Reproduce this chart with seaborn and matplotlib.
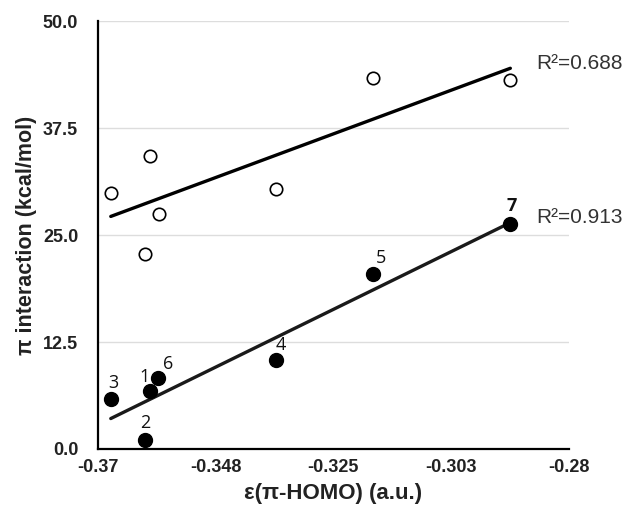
import numpy as np
import pandas as pd
import matplotlib
matplotlib.use("Agg")
import matplotlib.pyplot as plt
import seaborn as sns

# hollow series (upper fit)
open_x = [-0.3675, -0.3609, -0.3600, -0.3583, -0.3360, -0.3175, -0.2912]
open_y = [29.9, 22.8, 34.2, 27.5, 30.4, 43.4, 43.1]

# filled series (lower fit), labelled 1..7
filled_labels = ["1", "2", "3", "4", "5", "6", "7"]
filled_x = [-0.3600, -0.3609, -0.3675, -0.3360, -0.3175, -0.3584, -0.2912]
filled_y = [6.8, 1.1, 5.8, 10.4, 20.5, 8.3, 26.3]

r2_labels = ["R\u00b2=0.688", "R\u00b2=0.913"]
r2_y = [45.0, 27.0]

xticks = [-0.37, -0.3475, -0.325, -0.3025, -0.28]
xtick_labels = ["-0.37", "-0.348", "-0.325", "-0.303", "-0.28"]
yticks = [0.0, 12.5, 25.0, 37.5, 50.0]

sns.set_style("white")
plt.rcParams["font.family"] = ["Liberation Sans", "DejaVu Sans"]

fig = plt.figure(figsize=(6.29, 5.14), dpi=100)
ax = fig.add_axes([0.1553, 0.1265, 0.7493, 0.8325])

df_open = pd.DataFrame({"x": open_x, "y": open_y})
df_fill = pd.DataFrame({"x": filled_x, "y": filled_y, "label": filled_labels})

sns.regplot(data=df_open, x="x", y="y", ci=None, ax=ax,
            scatter_kws=dict(s=80, facecolor="white", edgecolor="black",
                             linewidths=1.2, alpha=1, zorder=4),
            line_kws=dict(color="black", lw=2.4, zorder=3))
sns.regplot(data=df_fill, x="x", y="y", ci=None, ax=ax,
            scatter_kws=dict(s=100, facecolor="black", edgecolor="black",
                             alpha=1, zorder=4),
            line_kws=dict(color="#1a1a1a", lw=2.4, zorder=3))

# point numbers
offsets = {"1": (-4, 10), "2": (0, 12), "3": (2, 12), "4": (4, 11),
           "5": (6, 11), "6": (7, 10), "7": (1, 13)}
for lab, x, y in zip(filled_labels, filled_x, filled_y):
    dx, dy = offsets[lab]
    ax.annotate(lab, (x, y), xytext=(dx, dy), textcoords="offset points",
                ha="center", va="center", fontsize=13,
                fontweight="bold" if lab == "7" else "normal",
                family=["Open Sans", "DejaVu Sans"], color="#111111")

for lab, y in zip(r2_labels, r2_y):
    ax.text(-0.2863, y, lab, fontsize=15, color="#333333", ha="left",
            va="center", clip_on=False)

ax.set_xlim(-0.37, -0.28)
ax.set_ylim(0, 50)
ax.set_xticks(xticks)
ax.set_xticklabels(xtick_labels)
ax.set_yticks(yticks)
ax.set_yticklabels([f"{v:.1f}" for v in yticks])
ax.tick_params(length=0, labelsize=13, colors="#222222")
ax.tick_params(axis="y", pad=14)
ax.tick_params(axis="x", pad=7)
for t in ax.get_xticklabels() + ax.get_yticklabels():
    t.set_fontweight("bold")

ax.yaxis.grid(True, color="#dddddd", lw=1)
ax.xaxis.grid(False)
ax.set_axisbelow(True)
for s in ["top", "right"]:
    ax.spines[s].set_visible(False)
for s in ["left", "bottom"]:
    ax.spines[s].set_color("black")
    ax.spines[s].set_linewidth(1.6)

ax.set_xlabel("\u03b5(\u03c0-HOMO) (a.u.)", fontsize=16, fontweight="bold",
              labelpad=5, color="#222222")
ax.set_ylabel("\u03c0 interaction (kcal/mol)", fontsize=15.5, fontweight="bold",
              labelpad=4, color="#222222")

fig.savefig("out.png", dpi=100)
